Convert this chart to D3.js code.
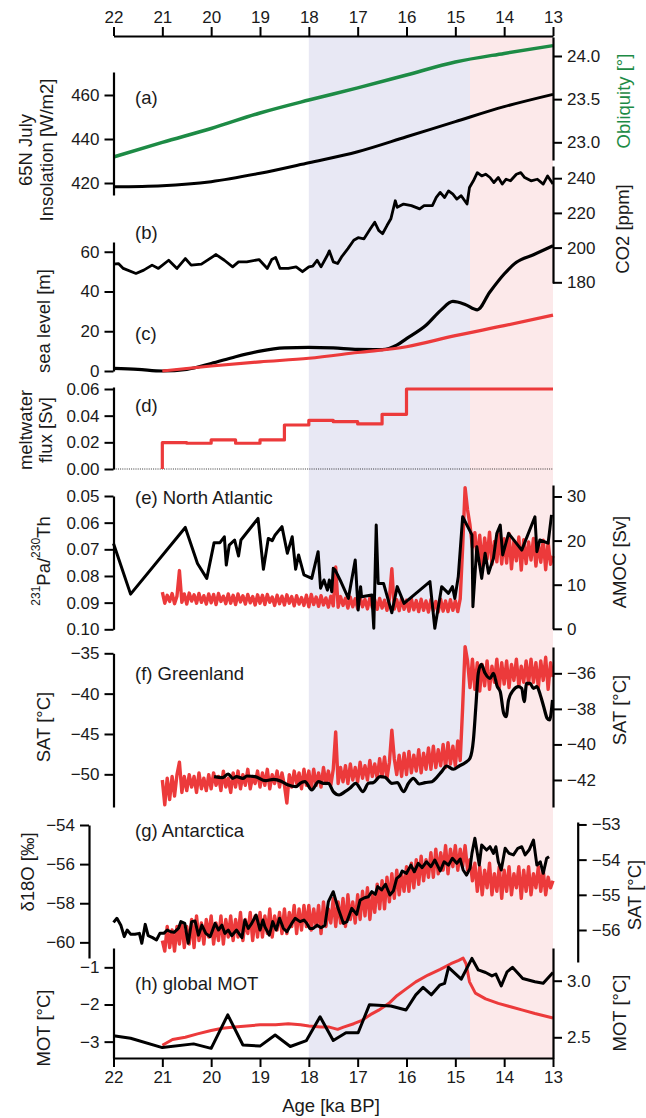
<!DOCTYPE html>
<html><head><meta charset="utf-8">
<script src="https://cdn.jsdelivr.net/npm/d3@7"></script>
<style>
body{margin:0;background:#fff;}
svg{display:block;font-family:"Liberation Sans",Arial,Helvetica,sans-serif;}
</style></head><body>
<svg id="c" width="646" height="1118"></svg>
<script>
// ---------- tick labels ----------
const ageTicks = [22,21,20,19,18,17,16,15,14,13];
const insolTicks = [420,440,460];
const obliqTicks = [23.0,23.5,24.0];
const co2Ticks = [180,200,220,240];
const slTicks = [0,20,40,60];
const mwTicks = [0,0.02,0.04,0.06];
const paTicks = [0.05,0.06,0.07,0.08,0.09,0.10];
const amocTicks = [0,10,20,30];
const satGTicks = [-35,-40,-45,-50];
const satGModelTicks = [-36,-38,-40,-42];
const d18Ticks = [-54,-56,-58,-60];
const satAModelTicks = [-53,-54,-55,-56];
const motTicks = [-1,-2,-3];
const motModelTicks = [2.5,3.0];

// ---------- (a) insolation & obliquity ----------
const insolAge = [22,21,20,19,18,17,16,15,14,13];
const insolVal = [418.3,418.8,420.6,424.4,429.2,434.2,441.0,447.9,454.7,460.3];
const obliqVal = [22.83,23.00,23.16,23.34,23.49,23.63,23.78,23.93,24.03,24.12];

// ---------- (b) CO2 ----------
const co2Age = [22.00,21.90,21.80,21.54,21.38,21.21,21.08,20.87,20.70,20.53,20.41,20.20,19.90,19.73,19.56,19.44,19.27,19.02,18.85,18.76,18.68,18.59,18.42,18.26,18.13,18.00,17.92,17.83,17.75,17.62,17.58,17.50,17.41,17.33,17.20,17.08,16.99,16.87,16.74,16.65,16.57,16.49,16.40,16.32,16.23,16.19,16.06,15.90,15.73,15.64,15.47,15.39,15.31,15.22,15.14,15.05,14.97,14.88,14.76,14.71,14.63,14.55,14.46,14.38,14.29,14.21,14.12,14.04,13.96,13.87,13.75,13.66,13.58,13.45,13.32,13.20,13.11,13.00];
const co2Val = [190.5,190.8,188.0,185.1,187.0,189.9,188.0,192.7,188.0,193.7,189.9,190.5,196.0,192.7,188.9,191.8,191.8,193.1,188.0,193.1,194.3,188.0,188.0,188.9,186.1,188.9,189.3,192.7,188.9,195.6,198.1,191.8,190.8,194.6,199.4,204.2,205.7,205.1,210.8,214.6,209.9,208.0,212.7,216.6,227.0,223.2,225.1,224.2,222.3,224.2,224.2,228.9,231.8,228.9,232.7,230.8,228.0,229.9,225.1,234.6,238.5,243.2,241.3,242.3,240.4,237.5,240.4,236.6,239.4,238.5,242.3,243.2,240.4,238.5,239.4,236.6,241.3,236.6];

// ---------- (c) sea level ----------
const slAge = [22.0,21.5,21.0,20.5,20.0,19.5,19.0,18.5,18.0,17.5,17.0,16.5,16.2,16.0,15.6,15.3,15.05,14.8,14.55,14.3,14.0,13.75,13.4,13.0];
const slVal = [1.3,0.8,0.0,0.8,3.8,7.2,10.0,11.6,11.9,11.6,10.9,10.8,13.0,16.3,23.0,30.5,35.0,33.5,30.8,39.5,48.8,54.7,58.5,63.0];
const slModelAge = [21,20,19,18,17,16,15,14,13];
const slModelVal = [0,2.5,4.6,6.4,9.3,12.2,17.8,22.8,28.1];

// ---------- (d) meltwater flux ----------
const mwAge = [21.0,21.0,20.5,20.0,19.5,19.0,18.5,18.0,17.5,17.0,16.5,16.0,13.0];
const mwVal = [0,0.0198,0.0193,0.0218,0.0193,0.0218,0.0330,0.0365,0.0355,0.0338,0.041,0.060,0.060];

// ---------- (e) North Atlantic ----------
const paAge = [22.00,21.65,20.53,20.28,20.09,19.94,19.82,19.73,19.69,19.63,19.52,19.44,19.39,19.04,18.93,18.83,18.75,18.69,18.55,18.44,18.34,18.27,18.21,18.10,17.94,17.81,17.76,17.69,17.62,17.58,17.53,17.50,17.46,17.36,17.19,17.05,16.99,16.94,16.92,16.71,16.67,16.62,16.58,16.47,16.30,16.19,16.05,15.52,15.42,15.28,15.14,15.06,15.01,14.94,14.85,14.66,14.64,14.56,14.46,14.39,14.32,14.22,14.15,14.08,14.03,13.91,13.64,13.37,13.33,13.27,13.10,13.03];
const paVal = [0.0678,0.0868,0.0618,0.0753,0.0809,0.0675,0.0675,0.0653,0.0759,0.0684,0.0665,0.0725,0.0665,0.0584,0.0775,0.0659,0.0668,0.0646,0.0615,0.0715,0.0653,0.0775,0.0721,0.0796,0.0809,0.0709,0.0846,0.0815,0.0853,0.0815,0.0859,0.0771,0.0778,0.0815,0.0884,0.0740,0.0928,0.0840,0.0878,0.0871,0.0996,0.0609,0.0828,0.0828,0.0938,0.0840,0.0903,0.0821,0.0996,0.0840,0.0865,0.0840,0.0884,0.0803,0.0578,0.0646,0.0915,0.0690,0.0809,0.0715,0.0790,0.0734,0.0640,0.0609,0.0721,0.0640,0.0703,0.0578,0.0709,0.0665,0.0677,0.0571];

// model series sampled every 0.05 ka from 21.0 to 13.0 ka
const modelAge = d3.range(161).map(i => Math.round((21 - 0.05 * i) * 100) / 100);
const amocModel = [
8.3,5.8,7.6,6.2,8.0,5.7,7.4,13.2,6.0,7.9,
5.6,8.1,6.3,7.7,5.8,8.0,6.0,7.5,5.6,7.9,
5.9,7.8,5.5,8.0,6.2,7.4,5.7,7.9,5.8,7.6,
5.5,7.9,6.1,7.5,5.6,7.8,5.9,7.3,5.4,7.7,
5.8,7.6,5.5,7.8,6.0,7.2,5.3,7.6,5.7,7.4,
5.4,7.7,5.8,7.3,5.2,7.5,5.6,7.1,5.3,7.6,
5.0,7.8,5.5,7.2,5.1,7.5,5.4,7.0,4.9,7.4,
5.2,14.0,4.9,7.3,5.3,6.9,4.7,7.2,5.0,6.8,
4.6,7.1,5.0,6.7,4.5,7.0,4.8,6.6,4.4,6.9,
4.7,6.5,4.2,6.8,13.6,4.5,6.6,4.1,6.9,4.4,
6.5,4.0,6.8,4.3,6.4,3.9,6.7,4.2,6.3,3.8,
6.6,4.1,6.2,3.8,6.7,4.0,6.3,3.9,6.6,4.2,
6.4,3.9,6.8,18.5,32.0,27.0,23.5,18.5,21.8,15.5,
21.2,14.2,20.6,15.8,21.9,14.6,19.8,15.2,21.5,14.7,
20.4,14.9,21.6,13.6,19.9,15.4,20.8,13.3,20.2,14.8,
19.7,15.6,20.5,14.2,19.4,15.1,20.1,13.4,19.6,14.6,
16.5];

// ---------- (f) Greenland ----------
const grAge = [19.94,19.77,19.65,19.56,19.48,19.35,19.27,19.10,18.89,18.72,18.55,18.42,18.26,18.18,18.08,17.94,17.80,17.70,17.60,17.50,17.38,17.26,17.16,17.04,16.89,16.78,16.68,16.54,16.44,16.30,16.19,16.06,15.96,15.86,15.74,15.62,15.48,15.38,15.28,15.18,15.04,14.92,14.80,14.70,14.63,14.58,14.53,14.47,14.39,14.29,14.22,14.14,14.08,14.01,13.96,13.91,13.81,13.71,13.64,13.59,13.54,13.47,13.40,13.33,13.26,13.19,13.12,13.07,13.01];
const grVal = [-50.29,-50.41,-49.96,-50.50,-50.29,-50.50,-50.21,-50.29,-50.79,-50.62,-50.91,-51.32,-51.53,-51.11,-50.91,-51.94,-50.91,-51.11,-51.11,-52.15,-52.56,-52.15,-51.73,-51.11,-52.15,-51.11,-51.03,-50.29,-50.37,-51.11,-51.03,-52.15,-51.11,-50.49,-51.20,-51.03,-50.91,-50.37,-49.67,-48.97,-49.37,-48.97,-48.56,-48.01,-45.74,-41.62,-37.48,-36.36,-37.48,-38.10,-37.48,-39.14,-39.76,-42.43,-42.86,-40.79,-39.55,-39.14,-39.34,-41.00,-38.72,-38.72,-39.34,-39.14,-40.17,-41.62,-43.05,-43.27,-40.79];
const grModel = [
-42.0,-43.4,-41.9,-43.1,-41.8,-42.9,-41.7,-41.0,-42.7,-41.8,
-42.6,-41.7,-42.4,-41.8,-42.7,-41.6,-42.5,-41.9,-42.6,-41.7,
-42.5,-41.6,-42.3,-41.8,-42.6,-41.5,-42.4,-41.9,-42.7,-41.6,
-42.4,-41.5,-42.5,-41.7,-42.3,-41.4,-42.5,-41.8,-42.2,-41.5,
-42.4,-41.6,-42.3,-41.4,-42.5,-41.7,-42.2,-41.5,-42.4,-41.6,
-42.3,-43.3,-41.7,-42.4,-41.5,-42.2,-41.6,-42.5,-41.4,-42.3,
-41.5,-42.5,-41.4,-42.3,-41.6,-42.4,-41.3,-42.2,-41.5,-42.3,
-41.4,-39.3,-42.2,-41.3,-42.1,-41.2,-42.2,-41.1,-42.0,-41.3,
-42.1,-41.0,-41.9,-41.2,-42.0,-40.9,-41.8,-41.1,-41.9,-40.8,
-41.8,-40.7,-41.9,-41.0,-39.2,-40.8,-41.7,-40.6,-41.8,-40.5,
-41.7,-40.4,-41.6,-40.6,-41.5,-40.3,-41.6,-40.5,-41.4,-40.2,
-41.4,-40.1,-41.3,-40.3,-41.2,-40.0,-41.3,-39.9,-41.1,-40.1,
-41.2,-39.8,-40.9,-37.9,-34.5,-35.3,-36.8,-35.2,-36.9,-35.4,
-37.0,-35.5,-36.7,-35.3,-36.9,-35.6,-36.5,-35.2,-36.8,-35.4,
-36.6,-35.3,-36.8,-35.5,-36.4,-35.2,-36.7,-35.6,-36.5,-35.3,
-36.6,-35.2,-36.5,-35.4,-36.8,-35.3,-36.4,-35.1,-36.9,-35.4,
-36.2];

// ---------- (g) Antarctica ----------
const anAge = [22.00,21.93,21.85,21.78,21.72,21.65,21.56,21.47,21.42,21.35,21.29,21.20,21.12,21.05,20.97,20.90,20.83,20.76,20.67,20.62,20.54,20.47,20.40,20.33,20.26,20.19,20.11,20.02,19.92,19.85,19.78,19.72,19.65,19.58,19.48,19.37,19.31,19.24,19.17,19.08,19.00,18.94,18.90,18.81,18.74,18.67,18.60,18.52,18.45,18.35,18.28,18.18,18.10,18.04,17.98,17.91,17.83,17.75,17.67,17.60,17.50,17.40,17.29,17.22,17.12,17.02,16.95,16.86,16.78,16.71,16.64,16.59,16.51,16.43,16.34,16.27,16.20,16.13,16.09,16.00,15.91,15.84,15.76,15.68,15.59,15.50,15.42,15.31,15.23,15.14,15.06,14.97,14.90,14.84,14.77,14.70,14.66,14.60,14.51,14.46,14.36,14.29,14.22,14.17,14.12,14.06,13.98,13.90,13.81,13.72,13.64,13.57,13.49,13.40,13.33,13.26,13.20,13.13,13.08];
const anVal = [-58.98,-58.77,-59.12,-59.71,-59.37,-59.58,-59.59,-59.54,-60.05,-59.08,-59.66,-59.76,-59.88,-59.54,-59.54,-59.37,-59.46,-59.49,-59.29,-58.94,-59.03,-60.05,-58.94,-58.91,-59.63,-59.12,-59.54,-59.71,-59.03,-59.37,-59.12,-59.54,-59.37,-59.66,-59.37,-59.76,-58.86,-59.29,-59.03,-58.60,-59.37,-58.86,-59.20,-59.63,-58.94,-59.37,-58.77,-59.29,-59.46,-59.03,-58.77,-58.94,-58.86,-59.03,-59.29,-59.29,-59.12,-59.25,-59.12,-57.92,-57.41,-58.26,-59.03,-58.94,-58.26,-58.57,-57.84,-57.72,-57.67,-57.41,-57.55,-57.15,-57.32,-57.03,-57.58,-57.38,-56.73,-56.59,-56.35,-56.47,-56.05,-56.39,-55.96,-56.18,-55.88,-56.13,-55.79,-56.35,-55.88,-56.05,-55.70,-55.96,-55.74,-56.30,-56.56,-56.22,-55.45,-54.68,-56.05,-55.02,-55.28,-55.11,-55.45,-55.11,-55.88,-56.30,-55.19,-55.45,-55.53,-55.19,-55.11,-55.53,-55.28,-54.77,-56.05,-55.88,-56.47,-55.70,-55.62];
const anModel = [
-56.3,-56.6,-55.9,-56.5,-56.0,-56.6,-55.9,-56.4,-55.8,-56.5,
-55.9,-56.4,-55.7,-56.5,-55.6,-56.3,-55.8,-56.4,-55.7,-56.2,
-55.6,-56.4,-55.8,-56.3,-55.6,-56.4,-55.7,-56.2,-55.6,-56.3,
-55.7,-56.2,-55.5,-56.3,-55.7,-56.1,-55.5,-56.3,-55.6,-56.2,
-55.5,-56.2,-55.6,-56.1,-55.4,-56.2,-55.6,-56.0,-55.5,-56.1,
-55.4,-56.1,-55.5,-55.9,-55.3,-56.1,-55.4,-56.0,-55.3,-55.9,
-55.3,-56.0,-55.4,-55.9,-55.3,-56.1,-55.2,-55.9,-55.4,-55.8,
-55.1,-55.9,-55.2,-55.8,-55.1,-55.9,-55.0,-55.7,-55.2,-55.8,
-55.0,-55.7,-54.9,-55.6,-54.8,-55.7,-55.0,-55.5,-54.7,-55.4,
-54.6,-55.4,-54.5,-55.2,-54.4,-55.1,-54.3,-55.0,-54.4,-54.9,
-54.2,-54.9,-54.1,-54.8,-54.0,-54.7,-53.9,-54.6,-54.0,-54.5,
-53.8,-54.5,-53.7,-54.4,-53.8,-54.3,-53.6,-54.4,-53.7,-54.2,
-53.6,-54.3,-53.7,-54.2,-53.6,-54.3,-54.0,-54.6,-54.1,-54.9,
-54.2,-55.0,-54.3,-54.8,-54.1,-55.0,-54.4,-54.9,-54.2,-55.1,
-54.3,-54.9,-54.2,-55.0,-54.4,-54.8,-54.2,-55.1,-54.3,-54.9,
-54.2,-55.0,-54.4,-54.8,-54.2,-54.9,-54.3,-55.0,-54.5,-54.8,
-54.6];

// ---------- (h) global MOT ----------
const motAge = [22.00,21.65,21.00,20.36,20.00,19.66,19.35,19.00,18.69,18.38,18.05,17.77,17.50,17.24,16.99,16.76,16.32,16.01,15.81,15.66,15.49,15.32,15.22,15.14,14.88,14.66,14.53,14.38,14.25,14.17,14.06,13.94,13.83,13.62,13.37,13.20,13.00];
const motVal = [-2.84,-2.91,-3.16,-3.06,-3.18,-2.28,-3.09,-3.12,-2.82,-3.13,-2.97,-2.33,-2.97,-2.76,-2.76,-2.01,-2.04,-2.15,-1.74,-1.54,-1.74,-1.48,-1.43,-1.00,-1.32,-0.76,-1.07,-1.14,-1.23,-1.18,-1.50,-1.12,-1.00,-1.30,-1.39,-1.43,-1.14];
const motModelAge = [21.0,20.79,20.53,20.28,20.0,19.77,19.52,19.27,19.0,18.68,18.42,18.17,18.0,17.75,17.58,17.41,17.29,17.08,16.91,16.74,16.57,16.36,16.19,16.0,15.81,15.56,15.31,15.09,14.93,14.84,14.78,14.71,14.59,14.38,14.12,13.87,13.62,13.37,13.0];
const motModelVal = [2.43,2.48,2.50,2.53,2.56,2.58,2.59,2.60,2.61,2.61,2.62,2.61,2.60,2.59,2.59,2.57,2.59,2.62,2.65,2.70,2.74,2.80,2.87,2.93,2.99,3.05,3.10,3.15,3.18,3.20,3.15,2.99,2.89,2.84,2.80,2.77,2.74,2.71,2.67];

// shaded intervals (ka)
const shadeBands = [[18.0,14.7,"#e8e8f4"],[14.7,13.0,"#fce9ea"]];

// ---------- drawing ----------
const RED = "#ec3a3b", BLACK = "#000", GREEN = "#1d8b45";
const svg = d3.select("#c");
const x = d3.scaleLinear().domain([22,13]).range([113.5,553]);
const TOP = 36, BOTTOM = 1058;

const yIns  = d3.scaleLinear().domain([414.55,470.45]).range([195,72]);
const yObl  = d3.scaleLinear().domain([22.795,24.22]).range([160,37]);
const yCO2  = d3.scaleLinear().domain([179.6,247.03]).range([283,166]);
const ySL   = d3.scaleLinear().domain([0,64.9]).range([371,242]);
const yMW   = d3.scaleLinear().domain([0,0.0615]).range([469,387]);
const yPa   = d3.scaleLinear().domain([0.05,0.10]).range([496,629.3]);
const yAM   = d3.scaleLinear().domain([0,32.6]).range([628.8,485]);
const yGr   = d3.scaleLinear().domain([-54.05,-35]).range([807,653.3]);
const yGrM  = d3.scaleLinear().domain([-43.52,-34.52]).range([807,647]);
const yD18  = d3.scaleLinear().domain([-60.8,-54]).range([958,825]);
const yAnM  = d3.scaleLinear().domain([-56.91,-52.93]).range([962,822]);
const yMOT  = d3.scaleLinear().domain([-3.44,-0.48]).range([1058,948]);
const yMOTm = d3.scaleLinear().domain([2.317,3.289]).range([1058,948]);

// shading
svg.append("g").selectAll("rect").data(shadeBands).join("rect")
  .attr("x", d => x(d[0])).attr("width", d => x(d[1]) - x(d[0]))
  .attr("y", TOP).attr("height", BOTTOM - TOP).attr("fill", d => d[2]);

function series(ages, vals, y, color, w, curve) {
  const data = d3.zip(ages, vals);
  const line = d3.line().x(d => x(d[0])).y(d => y(d[1]));
  if (curve) line.curve(curve);
  svg.append("path").datum(data).attr("d", line)
    .attr("fill", "none").attr("stroke", color).attr("stroke-width", w)
    .attr("stroke-linejoin", "round").attr("stroke-linecap", "butt");
}

// (a)
series(insolAge, obliqVal, yObl, GREEN, 3.5, d3.curveMonotoneX);
series(insolAge, insolVal, yIns, BLACK, 3, d3.curveMonotoneX);
// (b)
series(co2Age, co2Val, yCO2, BLACK, 2.8);
// (c)
series(slAge, slVal, ySL, BLACK, 3.2, d3.curveMonotoneX);
series(slModelAge, slModelVal, ySL, RED, 3.2, d3.curveMonotoneX);
// (d)
svg.append("line").attr("x1", x(22)).attr("x2", x(13)).attr("y1", yMW(0)).attr("y2", yMW(0))
  .attr("stroke", "#000").attr("stroke-width", 0.8).attr("stroke-dasharray", "1,1.2");
series(mwAge, mwVal, yMW, RED, 3.2, d3.curveStepAfter);
// (e)
series(modelAge, amocModel, yAM, RED, 3.4);
series(paAge, paVal, yPa, BLACK, 3);
// (f)
series(modelAge, grModel, yGrM, RED, 3.4);
series(grAge, grVal, yGr, BLACK, 3.2, d3.curveMonotoneX);
// (g)
series(modelAge, anModel, yAnM, RED, 3.4);
series(anAge, anVal, yD18, BLACK, 3);
// (h)
series(motModelAge, motModelVal, yMOTm, RED, 3);
series(motAge, motVal, yMOT, BLACK, 3);

// axes
function axis(scale, orient, pos, ticks, fmt) {
  const gen = {left: d3.axisLeft, right: d3.axisRight, top: d3.axisTop, bottom: d3.axisBottom}[orient];
  const vert = orient === "left" || orient === "right";
  const ax = gen(scale).tickValues(ticks).tickFormat(fmt).tickSize(9)
    .tickPadding(vert ? 5 : 4).tickSizeOuter(0);
  const g = svg.append("g")
    .attr("transform", vert ? `translate(${pos},0)` : `translate(0,${pos})`).call(ax);
  g.attr("font-family", null).attr("font-size", null);
  g.select(".domain").attr("stroke", "#000").attr("stroke-width", 2.2);
  g.selectAll(".tick line").attr("stroke", "#000").attr("stroke-width", 2);
  g.selectAll(".tick text").attr("fill", "#1a1a1a").style("font-size", "17px");
  return g;
}
const fi = d3.format("d"), f1 = d3.format(".1f"), f2 = d3.format(".2f");
axis(x, "top", TOP, ageTicks, fi);
axis(x, "bottom", BOTTOM, ageTicks, fi);
axis(yIns, "left", 113.5, insolTicks, fi);
axis(yObl, "right", 553, obliqTicks, f1);
axis(yCO2, "right", 553, co2Ticks, fi);
axis(ySL, "left", 113.5, slTicks, fi);
axis(yMW, "left", 113.5, mwTicks, f2);
axis(yPa, "left", 113.5, paTicks, f2);
axis(yAM, "right", 553, amocTicks, fi);
axis(yGr, "left", 113.5, satGTicks, fi);
axis(yGrM, "right", 553, satGModelTicks, fi);
axis(yD18, "left", 89, d18Ticks, fi);
axis(yAnM, "right", 577.7, satAModelTicks, fi);
axis(yMOT, "left", 113.5, motTicks, fi);
axis(yMOTm, "right", 553, motModelTicks, f1);

// labels
const FS = "18.5px";
function vlabel(txt, cx, cy, color) {
  return svg.append("text").attr("transform", `translate(${cx},${cy}) rotate(-90)`)
    .attr("text-anchor", "middle").attr("dominant-baseline", "central")
    .attr("fill", color || "#1a1a1a").style("font-size", FS).text(txt);
}
function plabel(txt, cy) {
  svg.append("text").attr("x", 135).attr("y", cy).attr("dominant-baseline", "central")
    .attr("fill", "#1a1a1a").style("font-size", FS).text(txt);
}
vlabel("65N July", 25, 150);
vlabel("Insolation [W/m2]", 46.5, 150);
vlabel("Obliquity [°]", 623, 101, GREEN);
vlabel("CO2 [ppm]", 622, 229);
vlabel("sea level [m]", 43, 321);
vlabel("meltwater", 25, 430);
vlabel("flux [Sv]", 45, 430);
// 231Pa/230Th with superscripts
const pa = svg.append("text").attr("transform", "translate(43,561) rotate(-90)")
  .attr("text-anchor", "middle").attr("dominant-baseline", "central")
  .attr("fill", "#1a1a1a").style("font-size", FS);
pa.append("tspan").style("font-size", "12px").attr("dy", -7).text("231");
pa.append("tspan").attr("dy", 7).text("Pa/");
pa.append("tspan").style("font-size", "12px").attr("dy", -7).text("230");
pa.append("tspan").attr("dy", 7).text("Th");
vlabel("AMOC [Sv]", 619, 562);
vlabel("SAT [°C]", 43, 727);
vlabel("SAT [°C]", 619, 710);
vlabel("δ18O [‰]", 27, 872);
vlabel("SAT [°C]", 634.5, 895);
vlabel("MOT [°C]", 43, 1028);
vlabel("MOT [°C]", 619, 1013);
svg.append("text").attr("x", 331).attr("y", 1105).attr("text-anchor", "middle")
  .attr("dominant-baseline", "central").attr("fill", "#1a1a1a").style("font-size", FS)
  .text("Age [ka BP]");

plabel("(a)", 97);
plabel("(b)", 232);
plabel("(c)", 333);
plabel("(d)", 405);
plabel("(e) North Atlantic", 497);
plabel("(f) Greenland", 673);
plabel("(g) Antarctica", 830);
plabel("(h) global MOT", 983);
</script>
</body></html>
